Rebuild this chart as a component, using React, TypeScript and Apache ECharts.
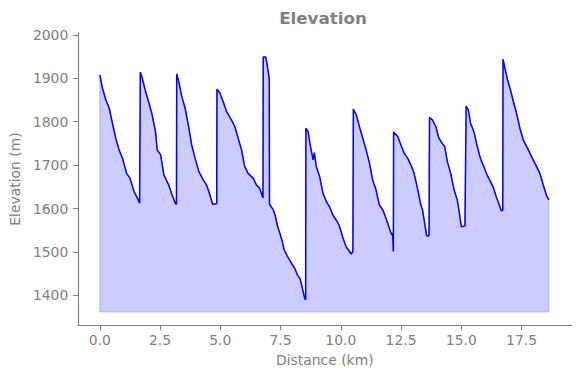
import React, { useEffect, useRef } from "react";
import * as echarts from "echarts";

// Distance along the route (km)
const distanceKm: number[] = [
  0.0, 0.11, 0.25, 0.39, 0.52, 0.66, 0.8, 0.94, 1.11, 1.25, 1.42, 1.56, 1.65,
  1.68, 1.76, 1.9, 2.04, 2.17, 2.31, 2.38, 2.52, 2.66, 2.86, 3.0, 3.14, 3.18,
  3.19, 3.29, 3.4, 3.54, 3.67, 3.81, 3.95, 4.11, 4.29, 4.43, 4.57, 4.68, 4.82, 4.85,
  4.86, 4.98, 5.12, 5.26, 5.46, 5.6, 5.74, 5.88, 6.01, 6.15, 6.36, 6.5, 6.63, 6.77,
  6.78, 6.88, 6.92, 7.03, 7.04,
  7.06, 7.2, 7.29, 7.36, 7.47, 7.57, 7.65, 7.79, 7.95, 8.09, 8.2, 8.3, 8.39, 8.5, 8.54,
  8.55, 8.64, 8.74, 8.85, 8.9, 8.98, 9.12, 9.26, 9.4, 9.53, 9.67, 9.85, 9.95, 10.09, 10.22, 10.36, 10.43, 10.5,
  10.52, 10.64, 10.77, 10.91, 11.05, 11.19, 11.32, 11.46, 11.6, 11.74, 11.87, 12.01, 12.11, 12.15, 12.18,
  12.19, 12.36, 12.49, 12.63, 12.77, 12.91, 13.04, 13.18, 13.32, 13.39, 13.48, 13.56, 13.66,
  13.68, 13.8, 13.94, 14.07, 14.21, 14.31, 14.42, 14.56, 14.7, 14.83, 14.9, 15.0, 15.15,
  15.2, 15.29, 15.38, 15.52, 15.66, 15.79, 15.93, 16.07, 16.21, 16.34, 16.45, 16.55, 16.66, 16.72,
  16.73, 16.81, 16.92, 17.04, 17.16, 17.29, 17.43, 17.57, 17.78, 17.98, 18.12, 18.26, 18.4, 18.53, 18.63,
];

// Elevation (m)
const elevationM: number[] = [
  1908, 1877, 1850, 1831, 1797, 1762, 1735, 1716, 1681, 1670, 1639, 1624, 1612,
  1914, 1900, 1869, 1843, 1816, 1777, 1735, 1724, 1677, 1654, 1631, 1611, 1610,
  1910, 1889, 1858, 1831, 1793, 1747, 1716, 1685, 1666, 1654, 1631, 1610, 1611, 1612,
  1875, 1866, 1846, 1823, 1804, 1789, 1762, 1735, 1697, 1681, 1670, 1654, 1647, 1624,
  1949, 1949, 1939, 1900, 1610,
  1608, 1597, 1581, 1562, 1543, 1524, 1505, 1489, 1474, 1462, 1447, 1439, 1420, 1393, 1390,
  1785, 1777, 1743, 1712, 1729, 1697, 1674, 1635, 1616, 1604, 1585, 1570, 1558, 1532, 1512, 1501, 1495, 1501,
  1829, 1816, 1789, 1762, 1735, 1704, 1666, 1643, 1608, 1597, 1578, 1555, 1539, 1543, 1501,
  1776, 1766, 1747, 1727, 1716, 1700, 1681, 1647, 1608, 1597, 1566, 1537, 1537,
  1810, 1804, 1789, 1762, 1750, 1743, 1708, 1681, 1643, 1620, 1597, 1558, 1560,
  1836, 1827, 1797, 1777, 1743, 1716, 1697, 1677, 1662, 1647, 1627, 1612, 1595, 1596,
  1944, 1923, 1896, 1873, 1846, 1820, 1785, 1758, 1735, 1712, 1697, 1681, 1654, 1631, 1620,
];

const fillBase = 1362;
const xTicks: number[] = [0, 2.5, 5, 7.5, 10, 12.5, 15, 17.5];
const yTicks: number[] = [1400, 1500, 1600, 1700, 1800, 1900, 2000];

const FONT = "DejaVu Sans";
const GRAY = "#808080";

export default function App() {
  const ref = useRef<HTMLDivElement>(null);

  useEffect(() => {
    if (!ref.current) return;
    const chart = echarts.init(ref.current, undefined, { renderer: "svg" });
    const profile = distanceKm.map((d, i) => [d, elevationM[i]]);
    const first = distanceKm[0];
    const last = distanceKm[distanceKm.length - 1];
    const outline = [[first, fillBase], ...profile, [last, fillBase], [first, fillBase]];

    chart.setOption({
      animation: false,
      textStyle: { fontFamily: FONT },
      grid: { left: 75.3, right: 8.3, top: 32.7, bottom: 52.7, containLabel: false },
      graphic: [
        {
          type: "text",
          x: 323,
          y: 18,
          style: {
            text: "Elevation",
            fontFamily: FONT,
            fontSize: 16.7,
            fontWeight: "bold",
            fill: GRAY,
            textAlign: "center",
            textVerticalAlign: "middle",
          },
        },
      ],
      xAxis: {
        type: "value",
        min: -0.908,
        max: 19.58,
        name: "Distance (km)",
        nameLocation: "middle",
        nameGap: 28,
        nameTextStyle: { color: GRAY, fontSize: 13.9, fontFamily: FONT },
        axisLine: { show: true, onZero: false, lineStyle: { color: GRAY, width: 1.1 } },
        axisTick: { show: true, length: 4.9, lineStyle: { color: GRAY, width: 1.1 }, customValues: xTicks },
        axisLabel: {
          color: GRAY,
          fontSize: 13.9,
          fontFamily: FONT,
          margin: 8,
          customValues: xTicks,
          formatter: (v: number) => v.toFixed(1),
        },
        splitLine: { show: false },
      },
      yAxis: {
        type: "value",
        min: 1331,
        max: 2005,
        name: "Elevation (m)",
        nameLocation: "middle",
        nameGap: 50,
        nameTextStyle: { color: GRAY, fontSize: 13.9, fontFamily: FONT },
        axisLine: { show: true, onZero: false, lineStyle: { color: GRAY, width: 1.1 } },
        axisTick: { show: true, length: 4.9, lineStyle: { color: GRAY, width: 1.1 }, customValues: yTicks },
        axisLabel: {
          color: GRAY,
          fontSize: 13.9,
          fontFamily: FONT,
          margin: 9.7,
          customValues: yTicks,
          formatter: (v: number) => String(Math.round(v)),
        },
        splitLine: { show: false },
      },
      series: [
        {
          type: "line",
          data: profile,
          symbol: "none",
          lineStyle: { width: 0, opacity: 0 },
          areaStyle: { color: "rgba(0,0,255,0.2)", origin: fillBase, opacity: 1 },
          silent: true,
          z: 1,
        },
        {
          type: "line",
          data: outline,
          symbol: "none",
          lineStyle: { width: 1.2, color: "rgba(0,0,255,0.2)" },
          silent: true,
          z: 2,
        },
        {
          type: "line",
          data: profile,
          symbol: "none",
          lineStyle: { width: 1.5, color: "#0000ff" },
          silent: true,
          z: 3,
        },
      ],
    });
    return () => chart.dispose();
  }, []);

  return (
    <div
      ref={ref}
      style={{ position: "fixed", left: 0, top: 0, width: 580, height: 378, background: "#fff" }}
    />
  );
}
